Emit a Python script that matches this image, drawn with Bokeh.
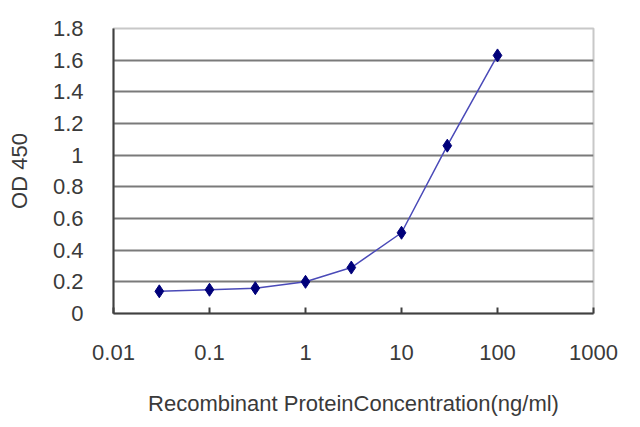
from bokeh.plotting import figure
from bokeh.models import FixedTicker, CustomJSTickFormatter, Range1d
from bokeh.embed import file_html
from bokeh.resources import INLINE

# data
conc = [0.03, 0.1, 0.3, 1, 3, 10, 30, 100]
od450 = [0.14, 0.15, 0.16, 0.2, 0.29, 0.51, 1.06, 1.63]

x_ticks = [0.01, 0.1, 1, 10, 100, 1000]
y_ticks = [0, 0.2, 0.4, 0.6, 0.8, 1.0, 1.2, 1.4, 1.6, 1.8]
grid_ticks = [0.2, 0.4, 0.6, 0.8, 1.0, 1.2, 1.4, 1.6]

FONT = "Liberation Sans"
TEXT = "#3a3a3a"

p = figure(width=632, height=419, x_axis_type="log",
           x_range=Range1d(0.01, 1000), y_range=Range1d(0, 1.8),
           output_backend="svg", toolbar_location=None,
           min_border_left=113, min_border_right=39,
           min_border_top=28, min_border_bottom=106)

p.outline_line_color = "#c8c8c8"
p.outline_line_width = 2

# grid
p.xgrid.grid_line_color = None
p.ygrid.ticker = FixedTicker(ticks=grid_ticks)
p.ygrid.grid_line_color = "#7a7a7a"
p.ygrid.grid_line_width = 2

# x axis
xa = p.xaxis[0]
xa.ticker = FixedTicker(ticks=x_ticks)
xa.formatter = CustomJSTickFormatter(code="return tick.toString();")
xa.minor_tick_line_color = None
xa.major_tick_in = 6
xa.major_tick_out = 0
xa.major_tick_line_color = "#404040"
xa.major_tick_line_width = 2
xa.axis_line_color = "#404040"
xa.axis_line_width = 2
xa.major_label_text_font = FONT
xa.major_label_text_font_size = "22px"
xa.major_label_text_color = TEXT
xa.major_label_standoff = 31
xa.axis_label = "Recombinant ProteinConcentration(ng/ml)"
xa.axis_label_text_font = FONT
xa.axis_label_text_font_size = "22px"
xa.axis_label_text_font_style = "normal"
xa.axis_label_text_color = TEXT
xa.axis_label_standoff = 28

# y axis
ya = p.yaxis[0]
ya.ticker = FixedTicker(ticks=y_ticks)
ya.formatter = CustomJSTickFormatter(code="return Number(tick.toFixed(1)).toString();")
ya.minor_tick_line_color = None
ya.major_tick_line_color = None
ya.axis_line_color = "#404040"
ya.axis_line_width = 2
ya.major_label_text_font = FONT
ya.major_label_text_font_size = "22px"
ya.major_label_text_color = TEXT
ya.major_label_standoff = 24
ya.axis_label = "OD 450"
ya.axis_label_text_font = FONT
ya.axis_label_text_font_size = "22px"
ya.axis_label_text_font_style = "normal"
ya.axis_label_text_color = TEXT
ya.axis_label_standoff = 18

# curve
p.line(conc, od450, line_color="#4a4ab8", line_width=1.5)
p.scatter(conc, od450, marker="diamond", size=13, color="#00007a")

open("out.html", "w").write(file_html(p, INLINE))
